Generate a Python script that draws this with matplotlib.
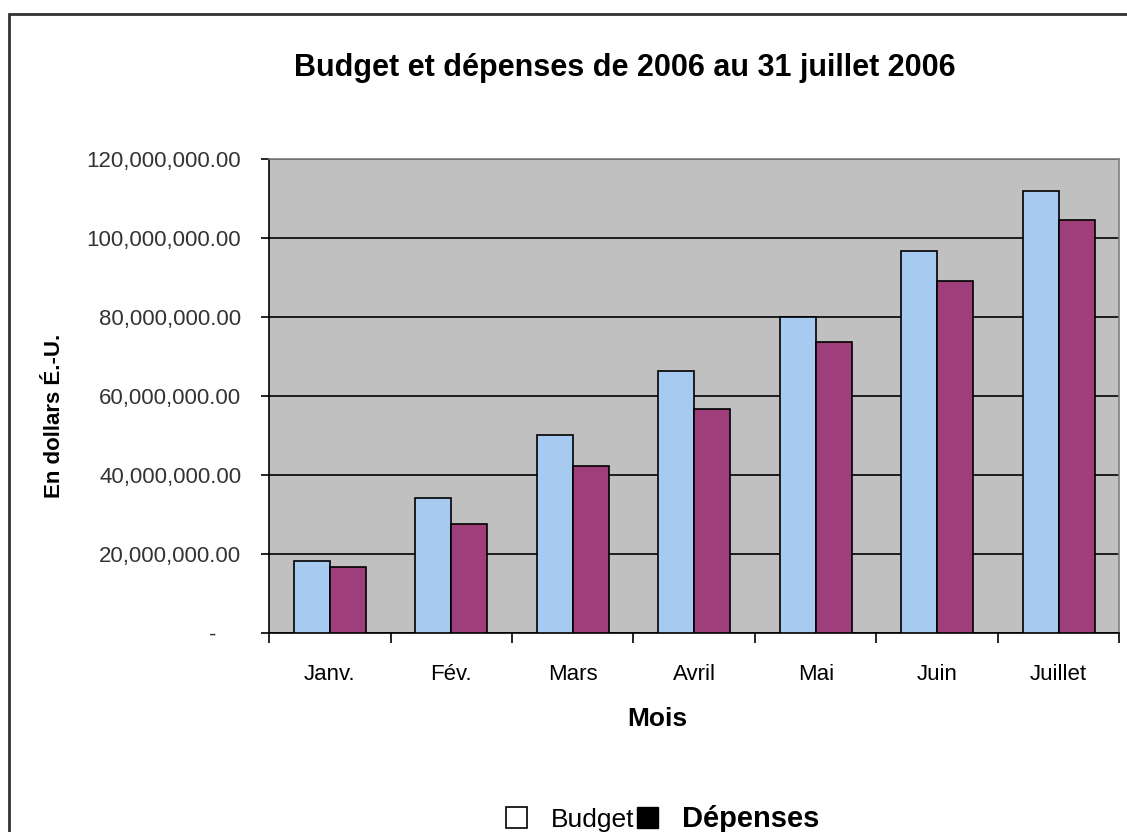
import matplotlib.pyplot as plt
import numpy as np
from matplotlib.patches import Patch, Rectangle
from matplotlib.ticker import FuncFormatter

plt.rcParams['font.family'] = ['Liberation Sans', 'DejaVu Sans']

# données (millions de dollars É.-U.)
mois = ['Janv.', 'Fév.', 'Mars', 'Avril', 'Mai', 'Juin', 'Juillet']
budget = [18.3, 34.3, 50.2, 66.4, 80.2, 96.8, 112.1]
depenses = [16.9, 27.8, 42.4, 56.8, 73.7, 89.3, 104.6]

budget = np.array(budget) * 1e6
depenses = np.array(depenses) * 1e6

fig = plt.figure(figsize=(11.27, 8.32), dpi=100)
ax = fig.add_axes([0.2387, 0.2388, 0.7546, 0.5697])
ax.set_facecolor('#C0C0C0')

x = np.arange(len(mois))
w = 0.296
ax.bar(x - w / 2, budget, w, color='#A6CAF0', edgecolor='black', linewidth=1.2, zorder=3)
ax.bar(x + w / 2, depenses, w, color='#9E3F7C', edgecolor='black', linewidth=1.2, zorder=3)

ax.set_xlim(-0.5, len(mois) - 0.5)
ax.set_ylim(0, 120e6)
ax.set_yticks(np.arange(0, 121e6, 20e6))
ax.yaxis.set_major_formatter(FuncFormatter(lambda v, p: '-    ' if v == 0 else f'{v:,.2f}'))
ax.yaxis.grid(True, color='black', linewidth=1.2, zorder=1)
ax.set_axisbelow(True)

ax.set_xticks(x)
ax.set_xticklabels(mois)
ax.set_xticks(np.arange(-0.5, len(mois)), minor=True)
ax.tick_params(axis='x', which='major', length=0, pad=22, labelsize=16)
ax.tick_params(axis='x', which='minor', length=7.5, width=1.2, color='black')
ax.tick_params(axis='y', length=6, width=1.2, pad=14, labelsize=16, labelcolor='#333333')

for s in ['top', 'right']:
    ax.spines[s].set_color('#808080')
    ax.spines[s].set_linewidth(1.2)
for s in ['left', 'bottom']:
    ax.spines[s].set_color('black')
    ax.spines[s].set_linewidth(1.2)

fig.text(0.5546, 0.918, 'Budget et dépenses de 2006 au 31 juillet 2006',
         ha='center', va='center', fontsize=22, fontweight='bold')
fig.text(0.583, 0.136, 'Mois', ha='center', va='center', fontsize=19, fontweight='bold')
fig.text(0.0488, 0.5, 'En dollars É.-U.', ha='center', va='center', rotation=90,
         fontsize=16, fontweight='bold')

handles = [Patch(facecolor='white', edgecolor='black', linewidth=1.2),
           Patch(facecolor='black', edgecolor='black')]
leg = fig.legend(handles, ['Budget', 'Dépenses'], loc='center', bbox_to_anchor=(0.588, 0.016),
                 ncol=2, frameon=False, fontsize=19, handlelength=0.8, handleheight=0.8,
                 columnspacing=0.1, handletextpad=0.9)
leg.get_texts()[1].set_fontweight('bold')
leg.get_texts()[1].set_fontsize(21)

# cadre du graphique
fig.patches.append(Rectangle((9 / 1127, -0.1), 1.2, 1.1 - 14 / 832, transform=fig.transFigure,
                             fill=False, edgecolor='#333333', linewidth=2))

fig.savefig('out.png', dpi=100)
